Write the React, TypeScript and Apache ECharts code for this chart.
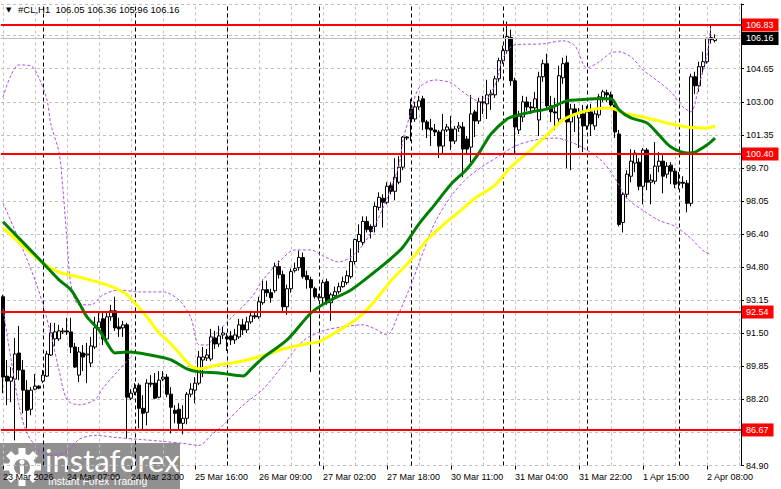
import React, { useEffect, useRef } from "react";
import * as echarts from "echarts";

// ---- candle data (H1 bars, index 0 = first visible bar) ----
const opens = [93.3,89.35,89.1,89.2,90.5,89.65,88.65,87.7,88.7,88.85,89.1,89.35,90.4,91.2,91.2,91.55,91.6,91.55,90.8,89.4,90.5,90.4,90.0,90.8,91.75,92.2,91.2,92.3,92.6,91.8,91.75,91.9,88.25,88.55,88.9,87.75,87.55,89.0,89.0,88.3,89.2,89.3,88.45,87.65,87.7,87.0,87.25,88.45,88.65,89.0,90.15,90.25,90.2,91.25,90.95,91.4,91.3,91.35,91.15,91.3,91.9,91.65,92.05,92.35,92.3,93.0,93.65,93.5,93.6,94.8,94.4,92.8,93.7,94.6,94.75,95.25,94.35,94.15,93.7,93.25,93.25,94.05,93.0,93.35,93.55,93.8,94.0,94.3,95.05,96.05,96.0,97.05,96.8,96.8,97.75,98.2,98.0,98.85,98.55,99.0,99.75,101.25,102.65,102.15,102.75,103.15,102.0,101.7,101.6,101.5,100.8,101.6,101.65,101.05,101.7,101.75,101.15,100.75,102.5,102.05,103.0,102.9,103.35,103.35,104.15,105.05,105.55,106.2,104.05,101.6,102.25,103.0,102.75,102.7,102.1,104.25,104.9,102.8,102.5,102.15,104.2,104.95,102.0,102.65,102.2,102.4,101.8,102.5,101.8,102.35,103.2,103.45,103.35,102.85,101.4,97.0,98.4,99.3,99.95,100.0,98.8,100.6,99.0,99.05,99.8,100.05,99.4,99.85,99.55,98.95,99.0,98.95,97.95,104.25,103.8,104.75,105.0,106.1,106.05];
const highs = [93.4,90.15,89.8,91.25,91.85,90.15,89.15,88.8,89.45,88.9,89.65,90.6,92.0,92.0,91.9,91.75,92.25,92.25,91.0,90.8,90.9,91.0,91.3,92.3,92.55,92.5,92.5,92.9,93.3,92.25,92.1,92.0,88.7,89.0,89.0,88.4,89.2,89.4,89.5,89.6,89.6,89.45,88.8,87.9,88.0,87.9,88.55,89.0,89.3,90.6,90.8,90.7,91.7,91.6,91.85,91.8,91.5,91.6,91.7,92.2,92.2,92.3,92.6,92.5,93.3,94.15,94.1,93.7,95.0,95.1,94.6,93.9,94.7,95.0,95.6,95.5,94.6,94.3,93.8,93.45,94.15,94.2,93.5,93.8,94.0,94.3,94.6,95.7,96.2,96.9,97.3,97.3,96.9,98.0,98.5,98.4,99.0,99.0,100.2,100.3,101.3,101.3,103.15,103.0,103.3,103.3,102.1,102.15,101.9,101.6,102.4,101.9,102.3,101.8,102.0,102.0,101.3,103.35,102.6,103.2,103.3,104.1,103.6,104.3,105.2,105.8,107.0,106.6,104.2,102.55,103.3,103.25,103.0,103.5,104.5,105.1,105.4,103.3,103.2,104.8,105.2,105.3,102.9,102.9,102.7,102.85,102.8,102.9,102.6,103.4,103.6,103.6,103.5,102.9,101.6,98.5,99.6,100.65,100.6,100.2,100.7,100.7,99.4,101.0,100.5,100.35,100.0,100.0,99.7,99.5,99.3,99.1,104.4,104.5,105.0,105.5,106.2,106.85,106.36];
const lows = [88.5,87.9,88.05,86.15,89.15,87.5,86.75,87.4,88.65,88.7,89.0,89.3,90.35,90.85,91.1,91.45,91.4,90.5,89.75,89.05,89.6,89.0,89.8,90.7,91.6,90.9,91.0,92.1,91.6,91.3,91.3,86.25,88.15,88.4,86.75,86.7,86.9,88.8,88.2,88.25,89.1,88.3,86.5,87.0,86.7,86.45,86.95,88.3,88.0,88.9,89.3,90.1,90.1,90.7,90.8,91.2,90.6,90.9,90.95,91.2,91.4,91.5,91.95,92.2,92.2,92.9,93.3,93.0,93.5,94.2,92.6,92.4,93.5,94.5,94.6,94.2,93.7,89.55,93.2,93.1,92.9,92.9,92.1,93.3,93.45,93.75,93.9,94.2,94.9,95.5,95.85,96.5,96.2,96.5,97.6,96.75,97.9,98.4,98.1,98.9,99.6,101.1,101.05,102.0,102.6,101.6,101.2,100.8,101.3,100.2,100.4,101.5,100.6,100.9,101.5,99.25,100.4,100.0,101.25,101.9,102.4,102.15,102.6,103.2,104.0,104.9,105.4,103.8,100.45,101.4,102.0,102.55,102.4,102.5,101.3,104.0,102.6,102.0,101.6,102.0,103.9,99.7,99.6,101.5,100.7,100.5,101.6,101.3,101.6,102.2,103.0,103.0,102.7,101.2,96.8,96.5,98.2,99.0,99.5,98.6,97.9,98.6,97.9,98.9,99.5,98.45,99.2,98.9,98.7,98.65,98.7,97.5,97.8,103.4,103.5,104.4,104.9,105.9,105.96];
const closes = [89.3,89.1,89.3,90.45,89.65,88.65,87.65,88.65,88.85,88.75,89.4,90.45,91.5,91.55,91.6,91.6,91.55,90.8,89.8,90.55,90.3,90.45,90.85,91.75,92.05,91.2,92.3,92.6,91.75,91.7,91.9,88.3,88.5,88.75,87.75,87.5,89.0,88.95,88.25,89.15,89.3,88.45,87.8,87.5,87.0,87.25,88.45,88.7,89.0,90.3,90.3,90.4,91.3,90.95,91.35,91.5,91.2,91.15,91.4,91.9,91.65,92.05,92.35,92.3,93.05,93.65,93.5,93.25,94.8,94.4,92.8,93.7,94.55,94.7,95.25,94.3,94.15,93.75,93.3,93.3,94.0,93.0,93.4,93.55,93.8,94.05,94.35,95.05,96.15,96.4,97.05,96.65,96.55,97.8,98.25,98.0,98.8,98.55,99.25,99.75,101.25,101.2,102.15,102.75,103.05,102.0,101.65,101.6,101.5,100.8,101.6,101.75,101.05,101.65,101.8,100.65,100.65,102.4,102.05,103.0,102.95,103.35,103.4,104.15,105.05,105.55,106.25,104.05,101.75,102.3,103.0,102.75,102.7,103.15,104.25,104.9,102.8,102.5,102.45,104.3,104.9,102.0,102.65,102.45,102.45,101.8,102.5,101.9,102.4,103.25,103.5,103.35,102.85,101.5,96.9,98.4,99.4,100.05,100.45,98.8,100.6,99.0,99.1,99.8,100.05,99.3,99.8,99.55,98.9,99.0,98.95,97.95,104.25,103.8,104.75,105.0,106.15,106.2,106.16];

// ---- indicator lines, read as [bar index, price] ----
const maGreen = [[0,97.03],[10,94.98],[14,94.14],[17,93.64],[19,93.0],[21,92.3],[24,91.65],[26,91.0],[28,90.5],[31,90.55],[34,90.5],[38,90.35],[42,90.16],[46,89.71],[49,89.56],[54,89.51],[60,89.36],[62,89.7],[65,90.26],[71,91.15],[77,92.49],[81,93.04],[87,93.64],[92,94.39],[96,95.03],[100,95.78],[104,96.93],[108,97.9],[112,98.9],[116,99.66],[119,100.46],[122,101.4],[126,102.15],[128,102.3],[132,102.5],[136,102.65],[141,103.05],[144,103.1],[148,103.15],[152,103.15],[154,102.6],[157,102.2],[161,101.95],[164,101.35],[167,100.75],[171,100.46],[173,100.5],[176,100.86],[178,101.2]];
const maYellow = [[0,96.73],[10,94.98],[14,94.53],[20,94.23],[26,93.89],[30,93.54],[32,93.2],[36,92.29],[39,91.5],[41,91.15],[44,90.5],[47,89.85],[49,89.71],[54,89.91],[59,90.06],[64,90.31],[71,90.75],[77,91.0],[79,91.05],[85,91.75],[89,92.29],[93,93.1],[97,94.1],[102,95.13],[106,96.12],[110,96.87],[114,97.52],[118,98.2],[123,98.86],[127,99.76],[132,100.61],[136,101.35],[140,102.1],[144,102.45],[148,102.65],[152,102.7],[155,102.45],[161,102.2],[166,101.95],[171,101.75],[176,101.7],[178,101.8]];
const bandUpper = [[0,103.24],[2,104.33],[4,104.84],[7,104.79],[9,104.19],[11,103.1],[12,101.85],[14,100.5],[15,98.62],[16,96.13],[17,93.89],[19,92.9],[22,92.9],[25,93.39],[29,93.64],[34,93.54],[40,93.54],[44,93.14],[47,92.24],[49,90.9],[51,90.9],[53,91.4],[57,92.24],[62,93.24],[65,94.14],[69,95.03],[73,95.63],[77,95.63],[80,95.33],[84,95.03],[87,95.28],[90,95.88],[93,96.87],[96,98.2],[99,99.86],[100,101.1],[102,102.5],[104,103.7],[108,104.09],[112,103.94],[115,103.49],[118,103.1],[120,103.0],[123,103.84],[125,105.19],[128,105.84],[135,105.89],[140,106.04],[143,105.79],[146,104.69],[149,104.99],[152,105.44],[154,105.49],[157,105.24],[160,104.59],[164,103.99],[167,103.49],[170,102.75],[172,102.5],[174,103.84],[176,105.34],[177,106.83]];
const bandMiddle = [[0,97.97],[4,96.12],[8,94.14],[10,92.9],[12,91.4],[14,89.66],[16,88.17],[19,87.92],[23,88.17],[25,88.76],[29,89.66],[32,90.31]];
const bandLower = [[0,92.7],[2,90.2],[4,87.9],[6,86.5],[9,85.7],[12,85.4],[16,85.6],[19,86.2],[23,86.4],[28,86.3],[34,86.2],[40,86.1],[45,86.0],[49,85.9],[52,86.4],[55,86.9],[60,87.9],[65,88.7],[70,89.9],[75,91.1],[80,91.6],[85,91.8],[90,91.9],[93,91.7],[96,91.4],[99,92.5],[102,93.9],[105,95.5],[108,97.0],[112,98.3],[116,99.2],[120,99.8],[124,100.3],[128,100.8],[133,101.1],[138,101.2],[142,101.0],[146,100.6],[150,100.0],[153,99.2],[156,98.2],[160,97.6],[164,97.1],[168,96.8],[172,96.2],[175,95.6],[177,95.4]];

// ---- axes / annotations ----
const xTickLabels = ["23 Mar 2026","24 Mar 07:00","24 Mar 23:00","25 Mar 16:00","26 Mar 09:00","27 Mar 02:00","27 Mar 18:00","30 Mar 11:00","31 Mar 04:00","31 Mar 22:00","1 Apr 15:00","2 Apr 08:00"];
// the 106.30 tick sits fully under the bid tag in the reference, so its label is blank
const yTickLabels = ["84.90","86.55","88.20","89.85","91.50","93.15","94.80","96.40","98.05","99.70","101.35","103.00","104.65",""];
const yTickBase = 84.9;
const yTickStep = 19.75 / 12;
const levels = [106.83, 100.4, 92.54, 86.67];
const bidPrice = 106.16;
const daySeparators = [10, 33, 56, 79, 102, 125, 146, 169];
const headerText = "#CL,H1  106.05 106.36 105.96 106.16";

const BAR_SLOTS = 185;
const LABEL_EVERY = 16;
const GRID_EVERY = 8;
const Y_MIN = 84.9;
const Y_MAX = 107.872;

export default function App() {
  const ref = useRef<HTMLDivElement>(null);
  useEffect(() => {
    document.body.style.margin = "0";
    const chart = echarts.init(ref.current!, null, { renderer: "svg" });
    const categories = Array.from({ length: BAR_SLOTS }, (_, i) => String(i));
    const candles = opens.map((o, i) => [o, closes[i], lows[i], highs[i]]);
    const vGrid = categories.map((_, i) => i).filter((i) => i % GRID_EVERY === 0).map((i) => ({ xAxis: i }));
    const font = "Liberation Sans, Arial, sans-serif";
    const gearTeeth = Array.from({ length: 8 }, (_, k) => ({
      type: "rect",
      x: 22,
      y: 467,
      rotation: (k * Math.PI) / 4,
      shape: { x: -3.5, y: -19, width: 7, height: 8 },
      style: { fill: "#fff" },
    }));
    const showLabel = (i: number) => i % LABEL_EVERY === 0 && i / LABEL_EVERY < xTickLabels.length;
    const option: any = {
      animation: false,
      backgroundColor: "#fff",
      grid: { left: 1, top: 4, width: 740, height: 461.5 },
      xAxis: {
        type: "category",
        data: categories,
        boundaryGap: true,
        offset: 3,
        axisLine: { show: false },
        axisTick: { show: true, alignWithLabel: true, interval: showLabel, length: 4, lineStyle: { color: "#000" } },
        axisLabel: {
          interval: showLabel,
          formatter: (_v: string, i: number) => xTickLabels[i / LABEL_EVERY] ?? "",
          align: "left",
          margin: 4,
          fontSize: 9,
          fontFamily: font,
          color: "#000",
        },
        splitLine: { show: false },
      },
      yAxis: [
        { type: "value", min: Y_MIN, max: Y_MAX, show: false, scale: true },
        {
          type: "value",
          position: "right",
          min: 0,
          max: (Y_MAX - yTickBase) / yTickStep,
          interval: 1,
          axisLine: { show: true, lineStyle: { color: "#000" } },
          axisTick: { show: true, length: 3, lineStyle: { color: "#000" } },
          axisLabel: { formatter: (v: number) => yTickLabels[Math.round(v)] ?? "", fontSize: 9, fontFamily: font, color: "#000", margin: 5 },
          splitLine: { show: true, lineStyle: { color: "#c0c0c0", type: [3, 3], width: 1 } },
        },
      ],
      series: [
        {
          type: "line", data: [], yAxisIndex: 0,
          markLine: { silent: true, symbol: "none", z: 1, label: { show: false }, lineStyle: { color: "#c0c0c0", type: [3, 3], width: 1 }, data: vGrid },
        },
        {
          type: "line", data: [], yAxisIndex: 0,
          markLine: { silent: true, symbol: "none", z: 2, label: { show: false }, lineStyle: { color: "#000", type: [4, 3], width: 1 }, data: daySeparators.map((i) => ({ xAxis: i })) },
        },
        {
          type: "candlestick", data: candles, yAxisIndex: 0, z: 3, barWidth: 3, clip: false,
          itemStyle: { color: "#fff", color0: "#000", borderColor: "#000", borderColor0: "#000", borderWidth: 1 },
        },
        { type: "line", data: bandUpper, yAxisIndex: 0, z: 4, smooth: 0.3, symbol: "none", lineStyle: { color: "#b050e0", width: 1, type: [3, 2] } },
        { type: "line", data: bandMiddle, yAxisIndex: 0, z: 4, smooth: 0.3, symbol: "none", lineStyle: { color: "#b050e0", width: 1, type: [3, 2] } },
        { type: "line", data: bandLower, yAxisIndex: 0, z: 4, smooth: 0.3, symbol: "none", lineStyle: { color: "#b050e0", width: 1, type: [3, 2] } },
        { type: "line", data: maYellow, yAxisIndex: 0, z: 5, smooth: 0.3, symbol: "none", lineStyle: { color: "#ffff00", width: 3 } },
        { type: "line", data: maGreen, yAxisIndex: 0, z: 6, smooth: 0.3, symbol: "none", lineStyle: { color: "#008000", width: 3 } },
        {
          type: "line", data: [], yAxisIndex: 0,
          markLine: {
            silent: true, symbol: "none", z: 9,
            lineStyle: { color: "#c0c0c0", type: "solid", width: 1 },
            label: { show: true, position: "end", distance: 1, formatter: bidPrice.toFixed(2), color: "#fff", backgroundColor: "#000", padding: [2, 5, 1, 4], fontSize: 9, fontFamily: font, lineHeight: 10 },
            data: [{ yAxis: bidPrice }],
          },
        },
        {
          type: "line", data: [], yAxisIndex: 0,
          markLine: {
            silent: true, symbol: "none", z: 10,
            lineStyle: { color: "#ff0000", type: "solid", width: 2 },
            label: { show: true, position: "end", distance: 1, formatter: (p: any) => Number(p.value).toFixed(2), color: "#fff", backgroundColor: "#ff0000", padding: [2, 5, 1, 4], fontSize: 9, fontFamily: font, lineHeight: 10 },
            data: levels.map((v) => ({ yAxis: v })),
          },
        },
      ],
      graphic: [
        { type: "text", left: 6, top: 6, z: 20, style: { text: "▼", fontSize: 7, fill: "#000", fontFamily: "DejaVu Sans" } },
        { type: "text", left: 18, top: 4, z: 20, style: { text: headerText, fontSize: 9.5, fill: "#000", fontFamily: font } },
        {
          type: "group", z: 30,
          children: [
            { type: "rect", shape: { x: 0, y: 443, width: 180, height: 46 }, style: { fill: "rgba(70,70,70,0.6)" } },
            ...gearTeeth,
            { type: "circle", shape: { cx: 22, cy: 467, r: 13.5 }, style: { fill: "#fff" } },
            { type: "circle", shape: { cx: 22, cy: 467, r: 8 }, style: { fill: "#8d8d8d" } },
            { type: "circle", shape: { cx: 22, cy: 462, r: 2.6 }, style: { fill: "#fff" } },
            { type: "rect", shape: { x: 20, y: 465.5, width: 4, height: 9 }, style: { fill: "#fff" } },
            { type: "text", x: 45, y: 444, style: { text: "instaforex", fontSize: 31, fill: "#fff", fontFamily: "Lato, sans-serif", fontWeight: "normal" } },
            { type: "text", x: 48, y: 475, style: { text: "Instant Forex Trading", fontSize: 10.5, fill: "#fff", fontFamily: font } },
          ],
        },
      ],
    };
    chart.setOption(option);
    return () => chart.dispose();
  }, []);
  return <div ref={ref} style={{ position: "fixed", left: 0, top: 0, width: 781, height: 489, background: "#fff" }} />;
}
